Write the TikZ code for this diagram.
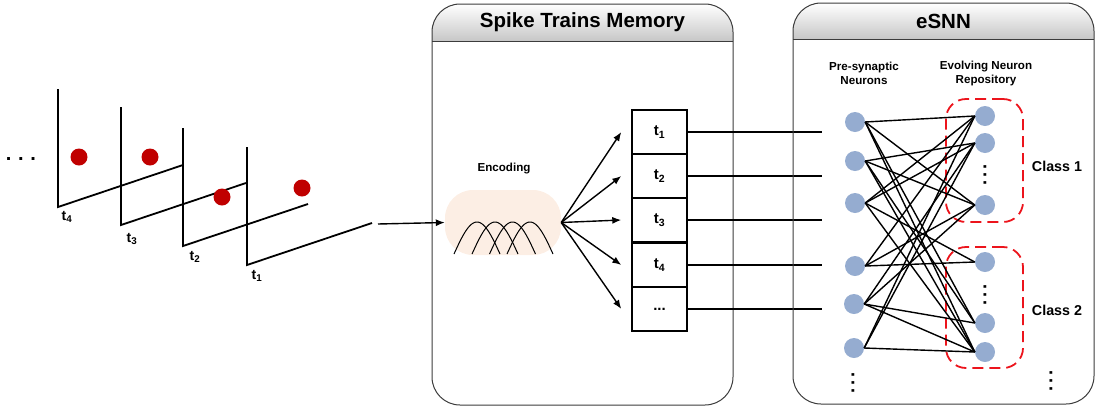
\documentclass[tikz,border=0pt]{standalone}
\usepackage{fontspec}
\setmainfont{Liberation Sans}
\usetikzlibrary{arrows.meta}
\definecolor{neuronblue}{RGB}{149,172,208}
\definecolor{spikered}{RGB}{192,0,0}
\definecolor{encfill}{RGB}{252,238,228}
\definecolor{classred}{RGB}{236,20,28}
\definecolor{panelgray}{RGB}{60,60,60}
\begin{document}
\begin{tikzpicture}[x=1pt,y=-1pt,
  framestroke/.style={line width=1.8pt},
  spike/.style={circle, fill=spikered, minimum size=17pt, inner sep=0pt},
  tlabel/.style={font=\bfseries\fontsize{14}{16}\selectfont, inner sep=0pt},
  title/.style={font=\bfseries\fontsize{20.5}{22}\selectfont, inner sep=0pt},
  smalltext/.style={font=\bfseries\fontsize{11.6}{14}\selectfont, align=center, inner sep=0pt},
  classlabel/.style={font=\bfseries\fontsize{14.3}{16}\selectfont, inner sep=0pt},
  panel/.style={draw=panelgray, line width=1pt},
  encbox/.style={fill=encfill, rounded corners=28pt, minimum width=116pt, minimum height=65pt, inner sep=0pt},
  bell/.style={line width=1pt},
  slot/.style={draw, line width=1.4pt, minimum width=55pt, minimum height=44pt, inner sep=0pt,
               font=\bfseries\fontsize{15}{17}\selectfont},
  fan/.style={line width=1.4pt, -{Latex[length=9pt,width=7pt]}},
  feed/.style={line width=1.4pt},
  neuron/.style={circle, fill=neuronblue, minimum size=20pt, inner sep=0pt},
  syn/.style={line width=1.4pt},
  classbox/.style={draw=classred, dash pattern=on 11pt off 6pt, line width=1.8pt, rounded corners=20pt, inner sep=0pt},
  hdots/.style={font=\bfseries\fontsize{20}{20}\selectfont, inner sep=0pt},
  vdots/.style={rotate=90, font=\bfseries\fontsize{18.5}{18}\selectfont, inner sep=0pt}
]
\useasboundingbox (0,0) rectangle (1101,408);

% ---------- stacked time frames ----------
\foreach \cx/\cy in {58/207, 121/225, 183/246, 247/265}{
  \draw[framestroke] (\cx,\cy-118) -- (\cx,\cy) -- ++(125,-42);
}
\node[spike] (s4) at (79,157) {};
\node[spike] (s3) at (150,157) {};
\node[spike] (s2) at (222,197) {};
\node[spike] (s1) at (302,188) {};
\node[tlabel] (lt4) at (67,217) {t\textsubscript{4}};
\node[tlabel] (lt3) at (132,239) {t\textsubscript{3}};
\node[tlabel] (lt2) at (195,257) {t\textsubscript{2}};
\node[tlabel] (lt1) at (257,276) {t\textsubscript{1}};
\node[hdots] (more) at (21,159) {.\,\,.\,\,.};

% ---------- Spike Trains Memory panel ----------
\coordinate (stmNW) at (432,4);
\coordinate (stmSE) at (733,405);
\begin{scope}
  \clip[rounded corners=28pt] (stmNW) rectangle (stmSE);
  \shade[top color=white, bottom color=black!22] (432,4) rectangle (733,41);
\end{scope}
\draw[panel, rounded corners=28pt] (stmNW) rectangle (stmSE);
\draw[panel] (432,41) -- (733,41);
\node[title] (stmtitle) at (582.5,22) {Spike Trains Memory};

% encoding stage with overlapping receptive fields
\node[smalltext] (enclabel) at (504,169) {Encoding};
\node[encbox] (enc) at (503,222.5) {};
\foreach \c in {477,495,512.5,530}{
  \pgfmathsetmacro\lo{\c-23}
  \pgfmathsetmacro\hi{\c+23}
  \draw[bell] plot[domain=\lo:\hi, samples=40, smooth] (\x, {254-32*cos(90*(\x-\c)/23)});
}
\coordinate (src) at (378,224);
\draw[fan] (src) -- (enc.west);

% memory slots
\node[slot] (b1) at (659.5,132) {t\textsubscript{1}};
\node[slot] (b2) at (659.5,176) {t\textsubscript{2}};
\node[slot] (b3) at (659.5,220) {t\textsubscript{3}};
\node[slot] (b4) at (659.5,265) {t\textsubscript{4}};
\node[slot] (b5) at (659.5,309) {...};
\foreach \b in {b1,b2,b3,b4,b5}{
  \draw[fan] (enc.east) -- ([xshift=-10pt]\b.west);
}
\coordinate (inedge) at (822,0);
\foreach \b in {b1,b2,b3,b4,b5}{
  \draw[feed] (\b.east) -- (\b.east -| inedge);
}

% ---------- eSNN panel ----------
\coordinate (snnNW) at (793,3);
\coordinate (snnSE) at (1094,404);
\begin{scope}
  \clip[rounded corners=28pt] (snnNW) rectangle (snnSE);
  \shade[top color=white, bottom color=black!22] (793,3) rectangle (1094,39);
\end{scope}
\draw[panel, rounded corners=28pt] (snnNW) rectangle (snnSE);
\draw[panel] (793,39) -- (1094,39);
\node[title] (snntitle) at (943.5,21) {eSNN};

\node[smalltext] (prelabel) at (864,73) {Pre-synaptic\\Neurons};
\node[smalltext] (replabel) at (986,73) {Evolving Neuron\\Repository};

% class groupings
\node[classbox, minimum width=77pt, minimum height=123pt] (class1) at (984.5,160.5) {};
\node[classbox, minimum width=77pt, minimum height=121pt] (class2) at (984.5,307.5) {};
\node[classlabel] (c1label) at (1057,166) {Class 1};
\node[classlabel] (c2label) at (1057,310) {Class 2};

% pre-synaptic neurons
\node[neuron] (L1) at (855,122) {};
\node[neuron] (L2) at (855,161) {};
\node[neuron] (L3) at (855,203) {};
\node[neuron] (L4) at (855,266) {};
\node[neuron] (L5) at (854,304) {};
\node[neuron] (L6) at (854,348) {};
% repository neurons
\node[neuron] (R1) at (985,116) {};
\node[neuron] (R2) at (985,143) {};
\node[neuron] (R3) at (985,205) {};
\node[neuron] (R4) at (985,262) {};
\node[neuron] (R5) at (985,323) {};
\node[neuron] (R6) at (985,352) {};

% synaptic connections
\foreach \l/\r in {L1/R1, L1/R3, L1/R5, L1/R6,
                   L2/R2, L2/R3, L2/R5, L2/R6,
                   L3/R1, L3/R2, L3/R4, L3/R6,
                   L4/R1, L4/R3, L4/R4,
                   L5/R2, L5/R3, L5/R5, L5/R6,
                   L6/R1, L6/R2, L6/R6}{
  \draw[syn] (\l.east) -- (\r.west);
}

\node[vdots] (dots1) at (985,175) {.\,.\,.};
\node[vdots] (dots2) at (985,295) {.\,.\,.};
\node[vdots] (dotsL) at (853,383) {.\,.\,.};
\node[vdots] (dotsR) at (1051,381) {.\,.\,.};
\end{tikzpicture}
\end{document}
